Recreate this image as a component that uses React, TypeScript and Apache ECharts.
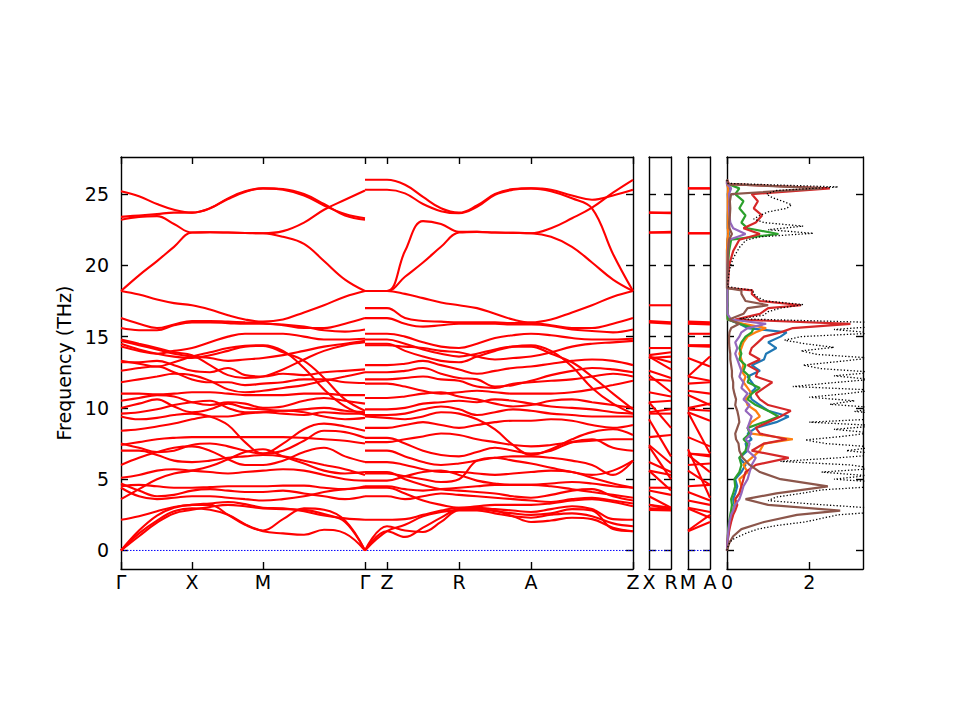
import React, { useEffect, useRef } from "react";
import * as echarts from "echarts";

// ---- k-path (distance along path, in panel units) ----
const kpathA = [0, 18, 36, 53, 71, 89, 107, 124, 142, 162, 183, 203, 224, 244]; // Γ-X-M-Γ
const kpathB = [244, 266, 284, 302, 320, 338, 356, 374, 392, 410, 430, 451, 471, 492, 512]; // Γ-Z-R-A-Z
const symTicks = [0, 71, 142, 244, 266, 338, 410, 512];
const symLabels = ["Γ", "X", "M", "Γ", "Z", "R", "A", "Z"];
const xrLabels = ["X", "R"];
const maLabels = ["M", "A"];
const freqTicks = [0, 5, 10, 15, 20, 25];
const dosTicks = [0, 2];

// ---- phonon bands along Γ-X-M-Γ (THz) ----
const bandsA: number[][] = [
  [25.2, 24.85, 24.3, 23.9, 23.7, 24.0, 24.7, 25.2, 25.4, 25.3, 24.9, 24.2, 23.6, 23.3],
  [23.4, 23.5, 23.6, 23.7, 23.7, 24.0, 24.65, 25.15, 25.4, 25.35, 25.0, 24.3, 23.5, 23.2],
  [23.2, 23.4, 23.45, 22.9, 22.3, 22.32, 22.3, 22.27, 22.25, 22.4, 23.0, 23.9, 24.6, 25.25],
  [18.2, 19.3, 20.3, 21.3, 22.3, 22.32, 22.3, 22.27, 22.25, 22.0, 21.5, 20.3, 19.0, 18.2],
  [18.2, 17.95, 17.6, 17.35, 17.2, 16.9, 16.5, 16.2, 16.05, 16.2, 16.7, 17.2, 17.8, 18.2],
  [16.3, 15.9, 15.6, 15.85, 16.1, 16.1, 16.05, 16.0, 15.95, 15.8, 15.6, 15.6, 15.9, 16.3],
  [15.6, 15.45, 15.45, 15.8, 16.0, 16.0, 15.95, 15.9, 15.9, 15.85, 15.7, 15.45, 15.35, 15.5],
  [13.3, 13.1, 12.9, 13.2, 13.6, 13.9, 14.2, 14.35, 14.4, 14.0, 12.8, 11.3, 10.1, 9.5],
  [14.5, 14.1, 13.8, 13.6, 13.5, 13.7, 14.0, 14.3, 14.35, 13.9, 13.3, 12.1, 10.6, 9.8],
  [14.8, 14.5, 14.2, 13.9, 13.7, 13.0, 12.3, 12.1, 12.2, 12.7, 13.4, 14.0, 14.4, 14.6],
  [14.7, 14.4, 14.1, 13.8, 13.6, 13.5, 13.3, 13.4, 13.5, 13.7, 14.0, 14.3, 14.5, 14.7],
  [14.3, 14.0, 13.8, 14.0, 14.2, 14.6, 15.0, 15.2, 15.2, 15.2, 15.0, 14.8, 14.8, 14.85],
  [13.2, 13.2, 13.3, 13.0, 12.6, 12.5, 12.8, 12.3, 12.2, 12.4, 12.3, 12.5, 12.6, 12.7],
  [12.6, 12.8, 12.9, 12.5, 12.0, 11.8, 11.8, 11.6, 11.7, 11.8, 12.0, 12.0, 11.8, 11.75],
  [11.8, 12.0, 12.2, 12.4, 12.3, 11.9, 11.3, 11.1, 11.2, 11.4, 11.6, 11.9, 12.2, 12.5],
  [11.0, 11.0, 10.95, 11.0, 11.1, 11.1, 11.0, 10.9, 10.9, 10.9, 11.0, 11.0, 10.9, 10.9],
  [10.5, 10.7, 10.9, 10.8, 10.4, 10.2, 10.4, 10.3, 10.0, 10.1, 10.5, 10.7, 10.5, 10.3],
  [10.0, 10.3, 10.6, 10.1, 9.7, 9.9, 10.3, 10.0, 9.9, 9.8, 9.9, 10.0, 9.8, 9.7],
  [9.6, 9.7, 9.9, 10.2, 10.4, 10.5, 10.0, 9.7, 9.7, 9.6, 9.5, 9.7, 9.6, 9.6],
  [9.4, 9.2, 9.3, 9.5, 9.6, 9.4, 8.8, 7.6, 6.8, 7.5, 8.5, 8.9, 8.7, 8.4],
  [8.4, 8.5, 8.7, 8.9, 9.2, 9.4, 9.4, 9.6, 9.7, 9.8, 9.7, 9.4, 9.2, 9.3],
  [7.4, 7.6, 7.8, 7.9, 7.95, 7.95, 7.95, 7.95, 7.95, 7.95, 7.9, 7.8, 7.7, 7.5],
  [7.5, 7.2, 6.9, 7.0, 7.4, 7.5, 7.3, 7.0, 6.8, 7.0, 7.7, 8.4, 8.3, 7.9],
  [7.0, 7.0, 6.7, 6.3, 6.2, 6.3, 6.5, 6.6, 6.7, 6.6, 6.3, 6.0, 5.7, 5.3],
  [6.0, 6.5, 6.9, 7.2, 7.3, 7.0, 6.4, 6.0, 6.0, 6.3, 6.9, 7.2, 6.6, 6.2],
  [5.1, 5.3, 5.6, 5.7, 5.6, 5.5, 5.4, 5.5, 5.6, 5.7, 5.6, 5.3, 5.0, 4.9],
  [4.5, 4.6, 4.5, 4.4, 4.4, 4.45, 4.5, 4.5, 4.5, 4.55, 4.55, 4.4, 4.3, 4.5],
  [4.7, 4.2, 3.8, 3.9, 4.2, 4.3, 4.2, 4.1, 4.1, 4.2, 4.0, 3.8, 3.6, 3.8],
  [3.6, 4.3, 5.0, 5.4, 5.6, 5.9, 6.4, 6.9, 7.1, 6.6, 6.1, 5.6, 5.4, 5.5],
  [4.4, 3.8, 3.6, 3.7, 3.8, 3.8, 3.7, 3.6, 3.5, 3.6, 3.8, 4.1, 4.3, 4.4],
  [0, 1.2, 2.1, 2.75, 2.95, 2.85, 2.5, 1.85, 1.35, 1.2, 1.1, 1.45, 1.2, 0],
  [0, 1.0, 1.95, 2.6, 2.85, 3.05, 3.2, 3.1, 2.95, 2.9, 2.85, 2.55, 2.0, 0],
  [0, 1.4, 2.45, 3.0, 3.2, 3.2, 2.5, 1.8, 1.4, 2.2, 2.95, 2.85, 2.1, 0],
  [2.15, 2.4, 2.75, 3.05, 3.2, 3.3, 3.4, 3.25, 3.0, 2.95, 2.75, 2.45, 2.25, 2.15],
];

// ---- phonon bands along Γ-Z-R-A-Z (THz), same band order ----
const bandsB: number[][] = [
  [26.0, 26.0, 25.65, 24.8, 24.0, 23.7, 24.2, 25.0, 25.35, 25.4, 25.3, 24.9, 24.6, 24.9, 25.3],
  [25.3, 25.3, 25.05, 24.3, 23.8, 23.65, 24.1, 24.95, 25.3, 25.4, 25.2, 24.7, 24.0, 20.8, 18.2],
  [18.2, 18.2, 21.0, 23.1, 22.9, 22.35, 22.35, 22.3, 22.28, 22.25, 22.6, 23.3, 24.05, 25.1, 26.0],
  [18.2, 18.2, 19.2, 20.2, 21.3, 22.3, 22.35, 22.3, 22.28, 22.25, 22.0, 21.3, 20.2, 19.0, 18.2],
  [18.2, 18.2, 18.0, 17.7, 17.4, 17.2, 17.0, 16.6, 16.2, 16.0, 16.2, 16.7, 17.2, 17.8, 18.2],
  [17.0, 17.0, 16.3, 16.1, 16.05, 16.0, 16.0, 16.0, 15.95, 15.95, 15.8, 15.6, 15.6, 15.9, 16.3],
  [16.3, 16.3, 15.9, 15.7, 15.8, 15.9, 15.9, 15.9, 15.85, 15.85, 15.75, 15.5, 15.4, 15.3, 15.5],
  [14.5, 14.5, 14.0, 13.6, 13.3, 13.2, 13.6, 14.0, 14.3, 14.4, 14.0, 12.9, 11.4, 10.3, 9.6],
  [14.8, 14.8, 14.5, 14.1, 13.8, 13.6, 13.8, 14.1, 14.3, 14.3, 13.8, 13.2, 12.2, 11.0, 9.9],
  [14.4, 14.4, 14.3, 14.2, 14.0, 13.9, 13.6, 13.4, 13.5, 13.6, 13.9, 14.3, 14.5, 14.6, 14.7],
  [13.0, 13.0, 13.1, 13.3, 13.0, 12.7, 12.4, 12.6, 12.8, 12.9, 13.1, 13.3, 13.4, 13.3, 13.0],
  [15.2, 15.2, 15.0, 14.6, 14.3, 14.2, 14.5, 14.9, 15.1, 15.2, 15.1, 14.9, 14.8, 14.8, 14.85],
  [12.5, 12.5, 12.6, 12.8, 12.4, 12.1, 12.0, 11.5, 11.6, 11.9, 12.3, 12.6, 12.8, 12.7, 12.5],
  [12.0, 12.0, 12.1, 12.2, 12.0, 11.9, 11.5, 11.4, 11.7, 11.8, 11.9, 12.0, 12.2, 12.4, 12.2],
  [11.7, 11.7, 11.5, 11.2, 11.0, 11.1, 11.2, 11.1, 11.0, 11.0, 11.0, 11.1, 11.3, 11.6, 11.9],
  [10.7, 10.7, 10.8, 11.0, 11.1, 10.8, 10.6, 10.3, 10.1, 10.2, 10.5, 10.6, 10.4, 10.2, 10.0],
  [9.9, 9.9, 10.0, 10.3, 10.4, 10.5, 10.4, 10.6, 10.5, 10.3, 10.1, 10.0, 9.9, 9.7, 9.6],
  [9.5, 9.5, 9.6, 9.9, 10.1, 9.9, 9.5, 9.7, 9.9, 9.8, 9.6, 9.5, 9.4, 9.4, 9.4],
  [8.6, 8.6, 8.8, 9.0, 8.8, 8.6, 8.8, 9.0, 9.1, 9.1, 9.2, 9.1, 8.8, 8.6, 8.8],
  [9.4, 9.3, 9.2, 9.4, 9.7, 9.6, 9.2, 8.5, 7.4, 6.7, 7.1, 7.8, 8.3, 8.5, 8.1],
  [7.9, 7.9, 7.5, 7.0, 6.7, 6.6, 6.9, 7.2, 7.0, 6.8, 7.0, 7.6, 7.8, 7.2, 7.0],
  [7.6, 7.6, 7.8, 8.0, 8.2, 8.1, 7.8, 7.6, 7.4, 7.3, 7.4, 7.6, 7.7, 7.8, 7.8],
  [7.0, 7.0, 6.6, 6.2, 6.0, 6.1, 6.3, 6.5, 6.6, 6.6, 6.5, 6.3, 6.0, 5.3, 6.3],
  [6.2, 6.2, 6.0, 5.7, 5.5, 5.5, 5.4, 5.3, 5.4, 5.5, 5.6, 5.5, 5.1, 4.7, 4.4],
  [5.4, 5.4, 5.2, 5.0, 4.8, 5.0, 6.3, 6.5, 6.3, 6.1, 5.8, 5.5, 5.3, 5.6, 6.3],
  [4.9, 4.9, 5.2, 5.5, 5.6, 5.3, 4.9, 4.7, 4.6, 4.6, 4.7, 4.8, 4.7, 4.5, 4.4],
  [4.5, 4.5, 4.3, 4.2, 4.3, 4.4, 4.5, 4.6, 4.6, 4.6, 4.5, 4.3, 4.1, 3.9, 3.7],
  [3.8, 3.8, 3.6, 3.8, 4.0, 3.9, 3.8, 3.7, 3.6, 3.5, 3.4, 3.6, 3.7, 3.5, 3.3],
  [5.5, 5.5, 5.0, 4.6, 4.3, 4.2, 4.1, 4.0, 3.8, 3.7, 3.9, 4.2, 4.3, 3.8, 3.5],
  [4.4, 4.4, 4.0, 3.5, 3.2, 3.0, 3.1, 3.2, 3.2, 3.2, 3.3, 3.5, 3.6, 3.4, 3.1],
  [0, 1.35, 0.95, 1.6, 2.3, 2.9, 2.95, 2.8, 2.4, 2.0, 2.1, 2.3, 2.2, 1.6, 1.35],
  [0, 1.7, 1.4, 1.3, 2.0, 2.8, 2.8, 2.6, 2.4, 2.3, 2.5, 2.6, 2.4, 1.9, 1.7],
  [0, 1.35, 1.8, 2.4, 2.7, 2.85, 2.9, 2.75, 2.6, 2.5, 2.6, 2.9, 2.8, 1.5, 1.35],
  [2.15, 2.15, 2.2, 2.5, 2.8, 3.0, 3.0, 2.9, 2.8, 2.7, 2.9, 3.1, 2.9, 2.2, 2.15],
];

// ---- DOS: partial (projected) DOS on a frequency grid ----
const pdosFreq = [0, 0.5, 1, 1.5, 2, 2.5, 2.8, 3.2, 3.6, 4, 4.5, 5, 5.5, 6, 6.5, 7, 7.5, 7.8, 8.2, 8.6,
  9, 9.4, 9.8, 10.2, 10.6, 11, 11.4, 11.8, 12.2, 12.6, 13, 13.4, 13.8, 14.2, 14.6, 15, 15.3, 15.6, 15.9, 16.2,
  16.6, 17, 17.2, 17.5, 18, 18.25, 18.4, 20, 21, 21.8, 22.2, 22.6, 23, 23.5, 24, 24.5, 25, 25.4, 25.7, 26];
const pdosBlue = [0, 0.01, 0.03, 0.05, 0.08, 0.12, 0.15, 0.18, 0.15, 0.2, 0.25, 0.2, 0.35, 0.45, 0.3, 0.5, 0.45, 0.6, 0.5, 0.7,
  1.2, 1.5, 1.0, 0.8, 0.6, 0.55, 0.7, 0.6, 0.5, 0.8, 0.6, 0.9, 0.95, 1.2, 1.0, 1.3, 1.45, 0.5, 0.3, 0.02,
  0.01, 0.01, 0.01, 0.01, 0.01, 0.01, 0, 0, 0, 0.01, 0.05, 0.02, 0.02, 0.02, 0.03, 0.03, 0.02, 0.05, 0, 0];
const pdosOrange = [0, 0.01, 0.02, 0.04, 0.07, 0.1, 0.15, 0.2, 0.2, 0.3, 0.35, 0.3, 0.5, 0.4, 0.6, 0.8, 0.9, 1.6, 0.6, 0.5,
  0.6, 0.8, 0.7, 0.5, 0.45, 0.6, 0.5, 0.4, 0.45, 0.35, 0.4, 0.35, 0.3, 0.35, 0.4, 0.5, 0.7, 0.95, 0.4, 0.02,
  0.01, 0.01, 0.01, 0.01, 0.01, 0.01, 0, 0, 0, 0.01, 0.03, 0.02, 0.02, 0.02, 0.02, 0.02, 0.02, 0.03, 0, 0];
const pdosGreen = [0, 0.01, 0.02, 0.03, 0.05, 0.08, 0.1, 0.12, 0.1, 0.15, 0.2, 0.18, 0.3, 0.35, 0.3, 0.45, 0.5, 0.4, 0.55, 0.5,
  0.9, 1.25, 1.0, 0.7, 0.5, 0.6, 0.8, 0.5, 0.55, 0.4, 0.45, 0.3, 0.35, 0.3, 0.35, 0.45, 0.6, 0.65, 0.3, 0.02,
  0.01, 0.01, 0.02, 0.01, 0.01, 0.01, 0.01, 0.02, 0.05, 0.1, 1.25, 0.5, 0.35, 0.45, 0.3, 0.4, 0.2, 0.3, 0.02, 0];
const pdosRed = [0, 0.01, 0.03, 0.06, 0.1, 0.15, 0.2, 0.25, 0.2, 0.3, 0.35, 0.4, 0.45, 0.7, 1.5, 0.6, 0.9, 1.45, 0.8, 0.7,
  1.0, 1.3, 1.55, 1.0, 0.8, 0.7, 0.9, 1.1, 0.7, 0.75, 0.5, 0.8, 0.55, 0.6, 0.75, 0.9, 1.3, 1.6, 3.0, 0.2,
  0.8, 1.0, 1.8, 0.8, 0.6, 0.62, 0.02, 0.05, 0.15, 0.3, 0.8, 0.4, 0.7, 0.85, 0.65, 0.75, 0.6, 2.5, 0.05, 0];
const pdosPurple = [0, 0.01, 0.02, 0.04, 0.06, 0.1, 0.15, 0.2, 0.3, 0.35, 0.4, 0.5, 0.55, 0.6, 0.7, 0.5, 0.55, 0.45, 0.6, 0.5,
  0.55, 0.6, 0.45, 0.55, 0.4, 0.5, 0.35, 0.4, 0.3, 0.35, 0.3, 0.25, 0.2, 0.25, 0.2, 0.3, 0.35, 0.5, 0.95, 0.1,
  0.01, 0.01, 0.01, 0.01, 0.01, 0.01, 0.01, 0.01, 0.02, 0.05, 0.45, 0.15, 0.08, 0.06, 0.05, 0.06, 0.05, 0.1, 0, 0];
const pdosBrown = [0, 0.05, 0.15, 0.35, 0.9, 1.7, 2.75, 1.0, 0.45, 1.2, 2.45, 1.3, 0.8, 0.55, 0.38, 0.3, 0.28, 0.22, 0.2, 0.25,
  0.3, 0.28, 0.25, 0.2, 0.22, 0.18, 0.15, 0.15, 0.12, 0.12, 0.1, 0.08, 0.08, 0.06, 0.05, 0.05, 0.06, 0.1, 0.3, 0.05,
  0.4, 0.5, 1.0, 0.45, 0.35, 0.35, 0.01, 0.02, 0.03, 0.05, 0.12, 0.06, 0.05, 0.07, 0.08, 0.07, 0.1, 2.3, 0.03, 0];

// ---- DOS: total DOS ----
const totalFreq = [0, 0.25, 0.5, 0.75, 1, 1.25, 1.5, 1.75, 2, 2.25, 2.5, 2.75, 3, 3.25, 3.5, 3.75, 4, 4.25, 4.5, 4.75,
  5, 5.25, 5.5, 5.75, 6, 6.25, 6.5, 6.75, 7, 7.25, 7.5, 7.75, 8, 8.25, 8.5, 8.75, 9, 9.25, 9.5, 9.75,
  10, 10.25, 10.5, 10.75, 11, 11.25, 11.5, 11.75, 12, 12.25, 12.5, 12.75, 13, 13.25, 13.5, 13.75, 14, 14.25, 14.5, 14.75,
  15, 15.25, 15.5, 15.75, 16, 16.25, 16.5, 16.75, 17, 17.25, 17.5, 17.75, 18, 18.25, 18.5, 18.75, 19, 19.25, 19.5, 19.75,
  20, 20.25, 20.5, 20.75, 21, 21.25, 21.5, 21.75, 22, 22.25, 22.5, 22.75, 23, 23.25, 23.5, 23.75, 24, 24.25, 24.5, 24.75,
  25, 25.25, 25.5, 25.75, 26];
const totalDos = [0, 0.02, 0.06, 0.12, 0.3, 0.5, 0.75, 1.2, 1.9, 2.3, 2.7, 3.9, 3.4, 2.1, 1.0, 1.2, 1.8, 2.3, 3.7, 3.9,
  2.6, 3.4, 2.3, 3.6, 3.0, 1.3, 2.7, 3.8, 2.9, 3.6, 2.4, 1.9, 2.8, 3.5, 2.6, 3.7, 2.0, 3.8, 4.2, 3.1,
  3.7, 2.5, 3.1, 2.0, 2.9, 3.6, 1.6, 2.5, 3.5, 2.6, 3.6, 2.3, 1.85, 2.7, 3.5, 2.2, 1.8, 2.6, 1.9, 1.4,
  1.8, 3.6, 2.6, 3.8, 3.5, 0.3, 0.9, 1.0, 1.3, 1.85, 0.95, 0.75, 0.65, 0.63, 0.02, 0.02, 0.03, 0.04, 0.05, 0.07,
  0.09, 0.12, 0.15, 0.2, 0.25, 0.3, 0.38, 0.45, 0.8, 2.1, 1.0, 1.85, 0.9, 0.65, 0.8, 1.0, 1.45, 1.57, 1.35, 1.1,
  0.96, 1.2, 2.7, 0.02, 0];

const pdosList = [
  { name: "p1", color: "#1f77b4", values: pdosBlue },
  { name: "p2", color: "#ff7f0e", values: pdosOrange },
  { name: "p3", color: "#2ca02c", values: pdosGreen },
  { name: "p4", color: "#d62728", values: pdosRed },
  { name: "p5", color: "#9467bd", values: pdosPurple },
  { name: "p6", color: "#8c564b", values: pdosBrown },
];

const FONT = "DejaVu Sans";
const FS = 19;
const Y_MIN = -1.3;
const Y_MAX = 27.6;
const DOS_MAX = 3.305;

function buildOption(): any {
  const black = "#000";
  const spine = { show: true, onZero: false, lineStyle: { color: black, width: 1.4 } };
  const grids = [
    { left: 121, top: 157, width: 512, height: 412 },
    { left: 649, top: 157, width: 22, height: 412 },
    { left: 688, top: 157, width: 22, height: 412 },
    { left: 727, top: 157, width: 136, height: 412 },
  ];
  const xCfg = [
    { min: 0, max: 512, ticks: symTicks, labelVals: symTicks, labels: symLabels },
    { min: 0, max: 1, ticks: [] as number[], labelVals: [0, 1], labels: xrLabels },
    { min: 0, max: 1, ticks: [] as number[], labelVals: [0, 1], labels: maLabels },
    { min: 0, max: DOS_MAX, ticks: dosTicks, labelVals: dosTicks, labels: dosTicks.map(String) },
  ];
  const xAxis: any[] = [];
  const yAxis: any[] = [];
  xCfg.forEach((c, g) => {
    ["bottom", "top"].forEach((pos) => {
      xAxis.push({
        type: "value",
        gridIndex: g,
        position: pos,
        min: c.min,
        max: c.max,
        axisLine: spine,
        axisTick: {
          show: c.ticks.length > 0,
          inside: true,
          length: 7,
          customValues: c.ticks.length > 0 ? c.ticks : undefined,
          lineStyle: { color: black, width: 1.4 },
        },
        axisLabel:
          pos === "bottom"
            ? {
                show: true,
                customValues: c.labelVals,
                formatter: (v: number) => {
                  const i = c.labelVals.indexOf(v);
                  return i >= 0 ? c.labels[i] : "";
                },
                color: black,
                fontSize: FS,
                fontFamily: FONT,
                margin: 3,
              }
            : { show: false },
        splitLine: { show: false },
      });
    });
    ["left", "right"].forEach((pos) => {
      const main = g === 0 && pos === "left";
      yAxis.push({
        type: "value",
        gridIndex: g,
        position: pos,
        min: Y_MIN,
        max: Y_MAX,
        axisLine: spine,
        axisTick: { show: true, inside: true, length: 7, customValues: freqTicks, lineStyle: { color: black, width: 1.4 } },
        axisLabel: main
          ? { show: true, customValues: freqTicks, color: black, fontSize: FS, fontFamily: FONT, margin: 12 }
          : { show: false },
        splitLine: { show: false },
        name: main ? "Frequency (THz)" : "",
        nameLocation: "middle",
        nameGap: 42,
        nameTextStyle: { color: black, fontSize: FS, fontFamily: FONT },
      });
    });
  });

  const series: any[] = [];
  // zero-frequency reference lines
  [0, 1, 2].forEach((g) => {
    series.push({
      type: "line",
      xAxisIndex: 2 * g,
      yAxisIndex: 2 * g,
      data: g === 0 ? [[0, 0], [512, 0]] : [[0, 0], [1, 0]],
      symbol: "none",
      silent: true,
      lineStyle: { color: "#0000ff", width: 1, type: [1.5, 1.5] },
      z: 1,
    });
  });
  const bandStyle = { color: "#ff0000", width: 2.1 };
  bandsA.forEach((b) => {
    series.push({
      type: "line", xAxisIndex: 0, yAxisIndex: 0,
      data: b.map((v, i) => [kpathA[i], v]),
      smooth: 0.4, symbol: "none", silent: true, lineStyle: bandStyle, z: 2,
    });
  });
  bandsB.forEach((b) => {
    series.push({
      type: "line", xAxisIndex: 0, yAxisIndex: 0,
      data: b.map((v, i) => [kpathB[i], v]),
      smooth: 0.4, symbol: "none", silent: true, lineStyle: bandStyle, z: 2,
    });
  });
  // X-R panel and M-A panel
  bandsA.forEach((b, i) => {
    series.push({
      type: "line", xAxisIndex: 2, yAxisIndex: 2,
      data: [[0, b[4]], [1, bandsB[i][5]]],
      symbol: "none", silent: true, lineStyle: bandStyle, z: 2,
    });
    series.push({
      type: "line", xAxisIndex: 4, yAxisIndex: 4,
      data: [[0, b[8]], [1, bandsB[i][9]]],
      symbol: "none", silent: true, lineStyle: bandStyle, z: 2,
    });
  });
  // DOS
  pdosList.forEach((p) => {
    series.push({
      type: "line", xAxisIndex: 6, yAxisIndex: 6, name: p.name,
      data: p.values.map((v, i) => [v, pdosFreq[i]]),
      symbol: "none", silent: true, lineStyle: { color: p.color, width: 2.2 }, z: 3,
    });
  });
  series.push({
    type: "line", xAxisIndex: 6, yAxisIndex: 6, name: "total",
    data: totalDos.map((v, i) => [v, totalFreq[i]]),
    symbol: "none", silent: true, lineStyle: { color: "#000", width: 1.3, type: [1.3, 2] }, z: 4,
  });

  return {
    animation: false,
    backgroundColor: "#ffffff",
    textStyle: { fontFamily: FONT },
    grid: grids,
    xAxis,
    yAxis,
    series,
  };
}

export default function App() {
  const ref = useRef<HTMLDivElement>(null);
  useEffect(() => {
    if (!ref.current) return;
    const chart = echarts.init(ref.current, undefined, { renderer: "svg" });
    chart.setOption(buildOption());
    return () => chart.dispose();
  }, []);
  return (
    <div
      ref={ref}
      style={{ position: "fixed", left: 0, top: 0, width: 960, height: 720, background: "#fff" }}
    />
  );
}
